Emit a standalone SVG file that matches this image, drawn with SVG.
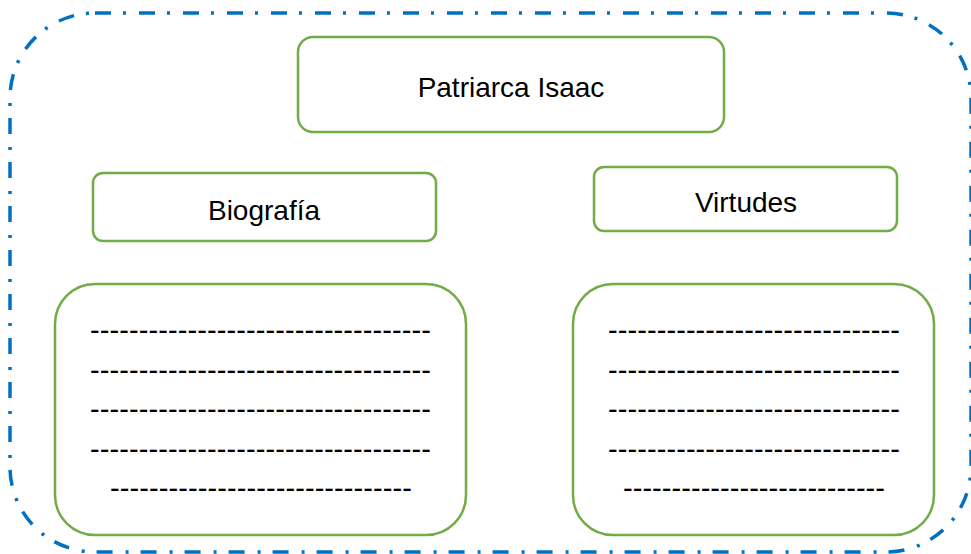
<svg xmlns="http://www.w3.org/2000/svg" width="971" height="554" viewBox="0 0 971 554">
<style>
.frame{fill:none;stroke:#0070C0;stroke-width:3.5;stroke-dasharray:16 12 3 13}
.box{fill:#fff;stroke:#70AD47;stroke-width:2.5}
.lbl{font-family:"Liberation Sans",Arial,sans-serif;font-size:28px;fill:#000;text-anchor:middle}
.dash{font-family:"Liberation Sans",Arial,sans-serif;font-size:29px;fill:#000}
</style>
<rect width="971" height="554" fill="#fff"/>
<rect class="frame" x="10" y="13" width="961" height="539" rx="85" ry="85"/>
<g id="connectors"></g>
<g id="patriarca">
<rect class="box" x="298" y="37" width="426" height="95" rx="15"/>
<text class="lbl" x="511" y="97">Patriarca Isaac</text>
</g>
<g id="biografia">
<rect class="box" x="93" y="173" width="343" height="68" rx="10"/>
<text class="lbl" x="264" y="220">Biografía</text>
</g>
<g id="virtudes">
<rect class="box" x="594" y="167" width="303" height="64" rx="10"/>
<text class="lbl" x="746" y="212">Virtudes</text>
</g>
<g id="biografia-lines">
<rect class="box" x="55" y="284" width="411" height="251" rx="40"/>
<text class="dash" x="90" y="340" textLength="341" lengthAdjust="spacing">-----------------------------------</text>
<text class="dash" x="90" y="380" textLength="341" lengthAdjust="spacing">-----------------------------------</text>
<text class="dash" x="90" y="419" textLength="341" lengthAdjust="spacing">-----------------------------------</text>
<text class="dash" x="90" y="459" textLength="341" lengthAdjust="spacing">-----------------------------------</text>
<text class="dash" x="110" y="498" textLength="302" lengthAdjust="spacing">-------------------------------</text>
</g>
<g id="virtudes-lines">
<rect class="box" x="573" y="284" width="361" height="251" rx="40"/>
<text class="dash" x="608" y="340" textLength="292" lengthAdjust="spacing">------------------------------</text>
<text class="dash" x="608" y="380" textLength="292" lengthAdjust="spacing">------------------------------</text>
<text class="dash" x="608" y="419" textLength="292" lengthAdjust="spacing">------------------------------</text>
<text class="dash" x="608" y="459" textLength="292" lengthAdjust="spacing">------------------------------</text>
<text class="dash" x="623" y="498" textLength="262" lengthAdjust="spacing">---------------------------</text>
</g>
</svg>
